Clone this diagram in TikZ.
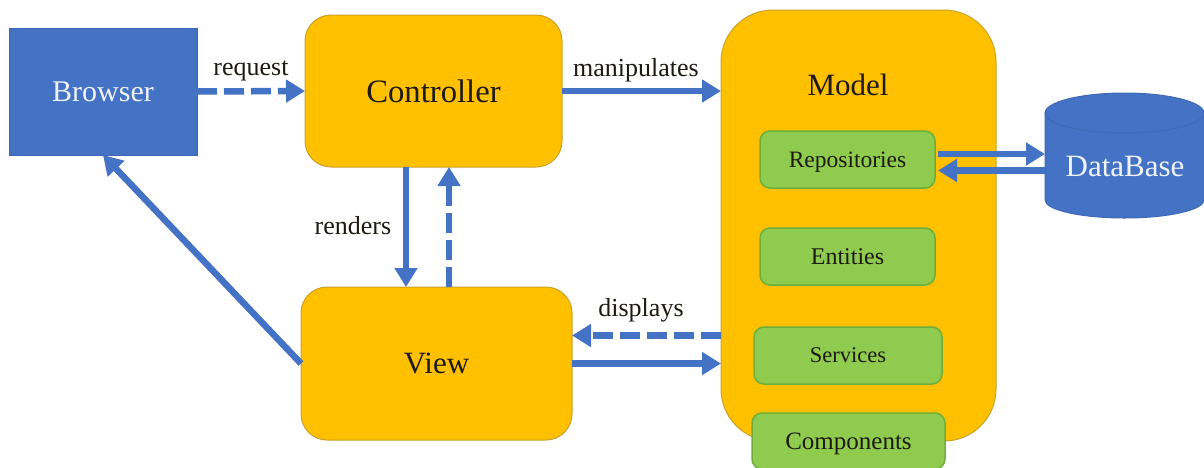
\documentclass[tikz,border=0pt]{standalone}
\usepackage{fontspec}
\setmainfont{Liberation Serif}
\usetikzlibrary{arrows.meta}
\definecolor{blueA}{HTML}{4472C4}
\definecolor{blueB}{HTML}{3F69B5}
\definecolor{orangeA}{HTML}{FFC000}
\definecolor{orangeB}{HTML}{C9A227}
\definecolor{greenA}{HTML}{8FCB4E}
\definecolor{greenB}{HTML}{6DAE3C}
\definecolor{inkA}{HTML}{1E1A12}
\newcommand{\fs}[1]{\fontsize{#1}{#1}\selectfont}
\tikzset{
  boxbase/.style={inner sep=0pt,outer sep=0pt,text=inkA},
  browserbox/.style={boxbase,fill=blueA,draw=blueB,line width=.8pt,text=white!92!blueA,font=\fs{30}},
  orangebox/.style={boxbase,fill=orangeA,draw=orangeB,line width=1pt,rounded corners=26pt,font=\fs{31}},
  modelbox/.style={orangebox,rounded corners=52pt},
  greenbox/.style={boxbase,fill=greenA,draw=greenB,line width=1.5pt,rounded corners=10pt,text depth=0pt,font=\fs{23}},
  dbanchor/.style={inner sep=0pt,outer sep=0pt},
  dbbody/.style={fill=blueA,draw=blueB,line width=1pt},
  flowlabel/.style={inner sep=0pt,text=inkA,font=\fs{26}},
  flow/.style={draw=blueA,line width=6.5pt,-{Triangle[length=19pt,width=22pt]}},
  dashflow/.style={flow,dash pattern=on 20pt off 7pt},
}
\begin{document}
\begin{tikzpicture}[x=1pt,y=-1pt]
\useasboundingbox (0,0) rectangle (1204,467);
\node[browserbox,minimum width=188pt,minimum height=127pt] (browser) at (103,91.5) {Browser};
\node[orangebox,minimum width=257pt,minimum height=152pt,font=\fs{32.7}] (controller) at (433.5,91) {Controller};
\node[orangebox,minimum width=271pt,minimum height=153pt] (view) at (436.5,363.5) {View};
\node[modelbox,minimum width=275pt,minimum height=431pt] (model) at (858.5,225.5) {};
\node[inner sep=0pt,text=inkA,font=\fs{31}] (modeltitle) at (848,85) {Model};
\node[greenbox,minimum width=175pt,minimum height=57pt,font=\fs{23.5}] (repos) at (847.5,159.5) {Repositories};
\node[greenbox,minimum width=175pt,minimum height=57pt,font=\fs{24}] (entities) at (847.5,256.5) {Entities};
\node[greenbox,minimum width=188pt,minimum height=57pt,font=\fs{22.5}] (services) at (848,355.5) {Services};
\node[greenbox,minimum width=193pt,minimum height=56pt,font=\fs{25}] (components) at (848.5,441) {Components};
\node[dbanchor,minimum width=159pt,minimum height=125pt] (db) at (1124.5,155.5) {};
\path[dbbody] ([yshift=-20pt]db.north west) arc[start angle=180,end angle=0,x radius=79.5pt,y radius=20pt]
  -- ([yshift=18pt]db.south east) arc[start angle=0,end angle=-180,x radius=79.5pt,y radius=18pt] -- cycle;
\draw[draw=blueB,line width=1pt] ([yshift=-20pt]db.north west) arc[start angle=180,end angle=360,x radius=79.5pt,y radius=20pt];
\node[inner sep=0pt,text=white!92!blueA,font=\fs{31}] (dbtitle) at (1125,166) {DataBase};
\node[flowlabel] (lrequest) at (251,71) {request};
\node[flowlabel] (lmanip) at (636,70) {manipulates};
\node[flowlabel] (lrenders) at (353,226) {renders};
\node[flowlabel] (ldisplays) at (641,310) {displays};
\draw[dashflow] (browser.east) -- (controller.west);
\draw[flow] (controller.east) -- (controller.east -| model.west);
\draw[flow] ([xshift=-27.5pt]controller.south) -- ([xshift=-27.5pt]controller.south |- view.north);
\draw[dashflow] ([xshift=12.5pt]view.north) -- ([xshift=12.5pt]view.north |- controller.south);
\draw[flow] (view.west) -- (browser.south);
\draw[dashflow] ([yshift=28pt]model.west |- view.center) -- ([yshift=28pt]view.east);
\draw[flow] (view.east) -- (view.east -| model.west);
\draw[flow] ([xshift=3pt,yshift=5.5pt]repos.east) -- ([yshift=5.5pt]repos.east -| db.west);
\draw[flow] ([yshift=-11pt]repos.east -| db.west) -- ([xshift=3pt,yshift=-11pt]repos.east);
\end{tikzpicture}
\end{document}
